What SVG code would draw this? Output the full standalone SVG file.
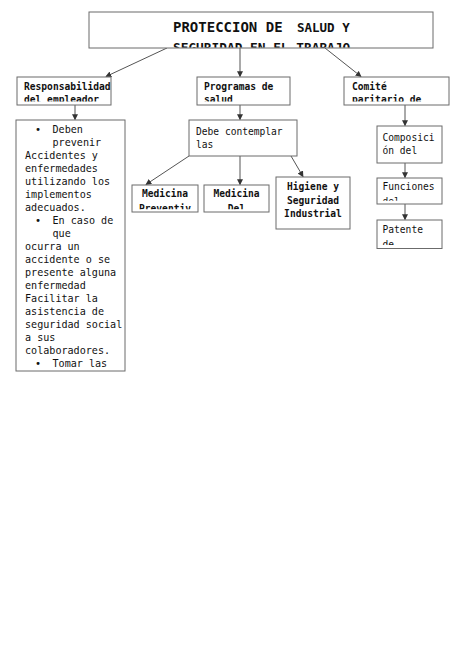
<svg xmlns="http://www.w3.org/2000/svg" width="474" height="670" viewBox="0 0 474 670">
<style>
.box{fill:#fff;stroke:#6b6b6b;stroke-width:1}
.t{font-family:"DejaVu Sans Mono","Liberation Mono",monospace;font-size:9.6px;fill:#111}
.m{font-size:10.1px}
.b{font-weight:bold}
.conn line{stroke:#555;stroke-width:1;marker-end:url(#ah)}
</style>
<defs>
<marker id="ah" viewBox="0 0 8 8" refX="7" refY="4" markerWidth="6" markerHeight="6" orient="auto" markerUnits="userSpaceOnUse">
<path d="M0,0 L8,4 L0,8 z" fill="#333"/>
</marker>
<clipPath id="c0"><rect x="89" y="12" width="344" height="35.5"/></clipPath>
<clipPath id="c1"><rect x="17" y="77" width="94" height="24.5"/></clipPath>
<clipPath id="c2"><rect x="197" y="77" width="93" height="24.5"/></clipPath>
<clipPath id="c3"><rect x="344" y="77" width="105" height="24.5"/></clipPath>
<clipPath id="c4"><rect x="16" y="120" width="109" height="251"/></clipPath>
<clipPath id="c5"><rect x="189" y="120" width="108" height="36"/></clipPath>
<clipPath id="c6"><rect x="132" y="185" width="66" height="24.3"/></clipPath>
<clipPath id="c7"><rect x="204" y="185" width="65" height="24.3"/></clipPath>
<clipPath id="c9"><rect x="377" y="126" width="65" height="36.5"/></clipPath>
<clipPath id="c10"><rect x="377" y="178" width="65" height="22.7"/></clipPath>
<clipPath id="c11"><rect x="377" y="220" width="65" height="25"/></clipPath>
</defs>
<rect width="474" height="670" fill="#fff"/>
<g class="conn">
<line x1="167" y1="48" x2="106" y2="76.5"/>
<line x1="240" y1="48" x2="240" y2="76.5"/>
<line x1="325" y1="48" x2="361" y2="76.5"/>
<line x1="75" y1="105" x2="75" y2="119.5"/>
<line x1="240" y1="105" x2="240" y2="119.5"/>
<line x1="189" y1="156" x2="146" y2="184.5"/>
<line x1="240" y1="156" x2="240" y2="184.5"/>
<line x1="291" y1="156" x2="303" y2="176.5"/>
<line x1="405" y1="105" x2="405" y2="125.5"/>
<line x1="405" y1="162.5" x2="405" y2="177.5"/>
<line x1="405" y1="204" x2="405" y2="219.5"/>
</g>
<g id="title">
<rect class="box" x="89" y="12" width="344" height="36"/>
<g clip-path="url(#c0)">
<text class="t b" x="173" y="32" style="font-size:14px">PROTECCION DE</text>
<text class="t b" x="297" y="32" style="font-size:12.5px">SALUD Y</text>
<text class="t b" x="173" y="51.5" style="font-size:12.8px">SEGURIDAD EN EL TRABAJO</text>
</g>
</g>
<g id="resp">
<rect class="box" x="17" y="77" width="94" height="28"/>
<g clip-path="url(#c1)">
<text class="t b" x="24" y="90">Responsabilidad</text>
<text class="t b" x="24" y="103">del empleador</text>
</g>
</g>
<g id="prog">
<rect class="box" x="197" y="77" width="93" height="28"/>
<g clip-path="url(#c2)">
<text class="t b" x="204" y="90">Programas de</text>
<text class="t b" x="204" y="103">salud</text>
</g>
</g>
<g id="comite">
<rect class="box" x="344" y="77" width="105" height="28"/>
<g clip-path="url(#c3)">
<text class="t b" x="352" y="90">Comité</text>
<text class="t b" x="352" y="103">paritario de</text>
</g>
</g>
<g id="deben">
<rect class="box" x="16" y="120" width="109" height="251"/>
<g clip-path="url(#c4)">
<text class="t m" x="35" y="133">•</text><text class="t m" x="52.5" y="133">Deben</text>
<text class="t m" x="52.5" y="146">prevenir</text>
<text class="t m" x="25" y="159">Accidentes y</text>
<text class="t m" x="25" y="172">enfermedades</text>
<text class="t m" x="25" y="185">utilizando los</text>
<text class="t m" x="25" y="198">implementos</text>
<text class="t m" x="25" y="211">adecuados.</text>
<text class="t m" x="35" y="224">•</text><text class="t m" x="52.5" y="224">En caso de</text>
<text class="t m" x="52.5" y="237">que</text>
<text class="t m" x="25" y="250">ocurra un</text>
<text class="t m" x="25" y="263">accidente o se</text>
<text class="t m" x="25" y="276">presente alguna</text>
<text class="t m" x="25" y="289">enfermedad</text>
<text class="t m" x="25" y="302">Facilitar la</text>
<text class="t m" x="25" y="315">asistencia de</text>
<text class="t m" x="25" y="328">seguridad social</text>
<text class="t m" x="25" y="341">a sus</text>
<text class="t m" x="25" y="354">colaboradores.</text>
<text class="t m" x="35" y="367">•</text><text class="t m" x="52.5" y="367">Tomar las</text>
</g>
</g>
<g id="debe">
<rect class="box" x="189" y="120" width="108" height="36"/>
<g clip-path="url(#c5)">
<text class="t" x="196" y="134.5">Debe contemplar</text>
<text class="t" x="196" y="147.5">las</text>
</g>
</g>
<g id="medprev">
<rect class="box" x="132" y="185" width="66" height="27"/>
<g clip-path="url(#c6)">
<text class="t b" x="165" y="197" text-anchor="middle">Medicina</text>
<text class="t b" x="165" y="212" text-anchor="middle">Preventiv</text>
</g>
</g>
<g id="meddel">
<rect class="box" x="204" y="185" width="65" height="27"/>
<g clip-path="url(#c7)">
<text class="t b" x="236.5" y="197" text-anchor="middle">Medicina</text>
<text class="t b" x="236.5" y="212" text-anchor="middle">Del</text>
</g>
</g>
<g id="higiene">
<rect class="box" x="276" y="177" width="74" height="52"/>
<text class="t b" x="313" y="190" text-anchor="middle">Higiene y</text>
<text class="t b" x="313" y="203.5" text-anchor="middle">Seguridad</text>
<text class="t b" x="313" y="217" text-anchor="middle">Industrial</text>
</g>
<g id="composicion">
<rect class="box" x="377" y="126" width="65" height="37"/>
<g clip-path="url(#c9)">
<text class="t" x="382.5" y="140.5">Composici</text>
<text class="t" x="382.5" y="153.5">ón del</text>
</g>
</g>
<g id="funciones">
<rect class="box" x="377" y="178" width="65" height="26"/>
<g clip-path="url(#c10)">
<text class="t" x="382.5" y="190">Funciones</text>
<text class="t" x="382.5" y="204.5">del</text>
</g>
</g>
<g id="patente">
<rect class="box" x="377" y="220" width="65" height="28.5"/>
<g clip-path="url(#c11)">
<text class="t" x="382.5" y="233">Patente</text>
<text class="t" x="382.5" y="248">de</text>
</g>
</g>
</svg>
